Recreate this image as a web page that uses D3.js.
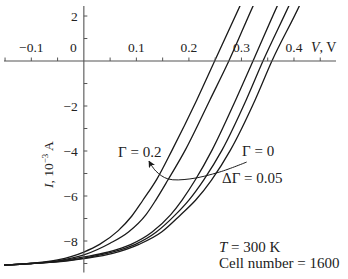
<!DOCTYPE html>
<html>
<head>
<meta charset="utf-8">
<script src="https://cdn.jsdelivr.net/npm/d3@7"></script>
<style>
  body { margin: 0; background: #fff; }
  #chart-container text { font-family: "Liberation Serif", "DejaVu Serif", serif; fill: #222; }
</style>
</head>
<body>
<div id="chart-container"></div>
<script>

// ------------------ data ------------------ //
const GAMMAS = [0.2, 0.15, 0.1, 0.05, 0];

// V in volts, I in 1e-3 A, one pair of arrays per curve
const V_G020 = [-0.152, -0.1, -0.05, 0, 0.03, 0.065, 0.091, 0.112, 0.139, 0.168, 0.215, 0.249, 0.297, 0.31];
const I_G020 = [-9.07, -8.99, -8.84, -8.49, -8.15, -7.55, -6.9, -6.2, -5.25, -3.96, -1.73, 0, 2.44, 3.1];

const V_G015 = [-0.152, -0.1, -0.05, 0, 0.05, 0.085, 0.118, 0.137, 0.16, 0.193, 0.24, 0.276, 0.322, 0.335];
const I_G015 = [-9.07, -9.0, -8.88, -8.62, -8.1, -7.6, -6.84, -6.18, -5.29, -3.96, -1.73, 0, 2.44, 3.1];

const V_G010 = [-0.152, -0.1, -0.05, 0, 0.045, 0.09, 0.13, 0.165, 0.187, 0.212, 0.244, 0.289, 0.322, 0.368, 0.381];
const I_G010 = [-9.07, -9.0, -8.9, -8.71, -8.5, -8.15, -7.6, -6.84, -6.18, -5.29, -3.96, -1.73, 0, 2.44, 3.1];

const V_G005 = [-0.152, -0.1, -0.05, 0, 0.05, 0.098, 0.138, 0.174, 0.2, 0.228, 0.263, 0.309, 0.341, 0.39, 0.403];
const I_G005 = [-9.07, -9.0, -8.92, -8.76, -8.52, -8.15, -7.6, -6.84, -6.18, -5.29, -3.96, -1.73, 0, 2.44, 3.1];

const V_G000 = [-0.152, -0.1, -0.05, 0, 0.055, 0.105, 0.148, 0.184, 0.213, 0.243, 0.279, 0.326, 0.358, 0.41, 0.423];
const I_G000 = [-9.07, -9.0, -8.93, -8.78, -8.55, -8.15, -7.6, -6.84, -6.18, -5.29, -3.96, -1.73, 0, 2.44, 3.1];

const CURVES_V = [V_G020, V_G015, V_G010, V_G005, V_G000];
const CURVES_I = [I_G020, I_G015, I_G010, I_G005, I_G000];

const X_DOMAIN = [-0.152, 0.48];
const Y_DOMAIN = [-9.4, 2.45];
const X_TICKS = [-0.15, -0.1, -0.05, 0.05, 0.1, 0.15, 0.2, 0.25, 0.3, 0.35, 0.4, 0.45];
const X_TICK_LABELS = [[-0.1, "\u22120.1"], [0.1, "0.1"], [0.2, "0.2"], [0.3, "0.3"], [0.4, "0.4"]];
const Y_TICKS = [2, 1, -1, -2, -3, -4, -5, -6, -7, -8, -9];
const Y_TICK_LABELS = [[2, "2"], [-2, "\u22122"], [-4, "\u22124"], [-6, "\u22126"], [-8, "\u22128"]];

// arrow from the "Gamma = 0" side toward the "Gamma = 0.2" curve, data units
const ARROW_V = [0.31, 0.259, 0.202, 0.16, 0.137, 0.124];
const ARROW_I = [-4.49, -4.93, -5.24, -5.24, -4.89, -4.45];

// ------------------ layout ------------------ //
const SVG_WIDTH = 348;
const SVG_HEIGHT = 279;
const X_RANGE = [4, 336];
const Y_RANGE = [272.5, 5.9];
const AXIS_COLOR = "#555555";
const LINE_COLOR = "#1a1a1a";


function createSVG() {
  const svg = d3.select("#chart-container")
    .append("svg")
    .attr("width", SVG_WIDTH)
    .attr("height", SVG_HEIGHT);
  svg.append("rect")
    .attr("width", SVG_WIDTH)
    .attr("height", SVG_HEIGHT)
    .attr("fill", "#fff");
  const xScale = d3.scaleLinear().domain(X_DOMAIN).range(X_RANGE);
  const yScale = d3.scaleLinear().domain(Y_DOMAIN).range(Y_RANGE);
  return [svg, xScale, yScale];
}

function drawAxes(svg, xScale, yScale) {
  const x0 = xScale(0), y0 = yScale(0);

  // x axis, ticks point up
  svg.append("line")
    .attr("x1", X_RANGE[0]).attr("x2", X_RANGE[1])
    .attr("y1", y0).attr("y2", y0)
    .attr("stroke", AXIS_COLOR).attr("stroke-width", 1.1);
  svg.append("g").selectAll("line")
    .data(X_TICKS)
    .join("line")
    .attr("x1", d => xScale(d)).attr("x2", d => xScale(d))
    .attr("y1", y0).attr("y2", y0 - 3.5)
    .attr("stroke", AXIS_COLOR);
  svg.append("g").selectAll("text")
    .data(X_TICK_LABELS)
    .join("text")
    .attr("x", d => xScale(d[0]))
    .attr("y", y0 - 9)
    .attr("text-anchor", "middle")
    .style("font-size", "13.5px")
    .text(d => d[1]);
  svg.append("text")
    .attr("x", x0 - 7).attr("y", y0 - 9)
    .attr("text-anchor", "end")
    .style("font-size", "13.5px")
    .text("0");
  const vl = svg.append("text")
    .attr("x", 311).attr("y", y0 - 9)
    .style("font-size", "14px");
  vl.append("tspan").style("font-style", "italic").text("V");
  vl.append("tspan").text(", V");

  // y axis, ticks point right
  svg.append("line")
    .attr("x1", x0).attr("x2", x0)
    .attr("y1", Y_RANGE[1]).attr("y2", Y_RANGE[0])
    .attr("stroke", AXIS_COLOR).attr("stroke-width", 1.1);
  svg.append("g").selectAll("line")
    .data(Y_TICKS)
    .join("line")
    .attr("x1", x0).attr("x2", x0 + 3.5)
    .attr("y1", d => yScale(d)).attr("y2", d => yScale(d))
    .attr("stroke", AXIS_COLOR);
  svg.append("g").selectAll("text")
    .data(Y_TICK_LABELS)
    .join("text")
    .attr("x", x0 - 6)
    .attr("y", d => yScale(d[0]))
    .attr("dy", "0.35em")
    .attr("text-anchor", "end")
    .style("font-size", "13.5px")
    .text(d => d[1]);

  // y label
  const yl = svg.append("text")
    .attr("transform", `translate(53, 188) rotate(-90)`)
    .style("font-size", "13.5px");
  yl.append("tspan").style("font-style", "italic").text("I");
  yl.append("tspan").text(", 10");
  yl.append("tspan").attr("dy", -5).style("font-size", "9px").text("\u22123");
  yl.append("tspan").attr("dy", 5).text(" A");
}

function drawCurves(svg, xScale, yScale) {
  svg.append("clipPath")
    .attr("id", "plot-clip")
    .append("rect")
    .attr("x", X_RANGE[0]).attr("y", Y_RANGE[1])
    .attr("width", X_RANGE[1] - X_RANGE[0])
    .attr("height", Y_RANGE[0] - Y_RANGE[1]);

  const d3line = d3.line()
    .x(d => xScale(d[0]))
    .y(d => yScale(d[1]))
    .curve(d3.curveMonotoneX);

  const curves = CURVES_V.map((vs, i) => vs.map((v, j) => [v, CURVES_I[i][j]]));
  svg.append("g")
    .attr("clip-path", "url(#plot-clip)")
    .selectAll("path")
    .data(curves)
    .join("path")
    .attr("fill", "none")
    .attr("stroke", LINE_COLOR)
    .attr("stroke-width", 1.3)
    .attr("d", d3line);
}

function drawAnnotations(svg, xScale, yScale) {
  svg.append("defs").append("marker")
    .attr("id", "arrowhead")
    .attr("viewBox", "0 0 10 10")
    .attr("refX", 9).attr("refY", 5)
    .attr("markerWidth", 7).attr("markerHeight", 7)
    .attr("markerUnits", "userSpaceOnUse")
    .attr("orient", "auto")
    .append("path")
    .attr("d", "M0,0 L10,5 L0,10 L2.5,5 Z")
    .attr("fill", LINE_COLOR);

  const arrowLine = d3.line()
    .x(d => xScale(d[0]))
    .y(d => yScale(d[1]))
    .curve(d3.curveCatmullRom);
  svg.append("path")
    .datum(ARROW_V.map((v, i) => [v, ARROW_I[i]]))
    .attr("fill", "none")
    .attr("stroke", LINE_COLOR)
    .attr("stroke-width", 1)
    .attr("marker-end", "url(#arrowhead)")
    .attr("d", arrowLine);

  const labels = [
    [118, 157, "\u0393 = 0.2"],
    [242, 156, "\u0393 = 0"],
    [222, 183, "\u0394\u0393 = 0.05"],
    [219, 268, "Cell number = 1600"]
  ];
  svg.append("g").selectAll("text")
    .data(labels)
    .join("text")
    .attr("x", d => d[0]).attr("y", d => d[1])
    .style("font-size", "15px")
    .text(d => d[2]);

  const t = svg.append("text")
    .attr("x", 219).attr("y", 252)
    .style("font-size", "15px");
  t.append("tspan").style("font-style", "italic").text("T");
  t.append("tspan").text(" = 300 K");
}


const [svg, xScale, yScale] = createSVG();
drawCurves(svg, xScale, yScale);
drawAxes(svg, xScale, yScale);
drawAnnotations(svg, xScale, yScale);

</script>
</body>
</html>
